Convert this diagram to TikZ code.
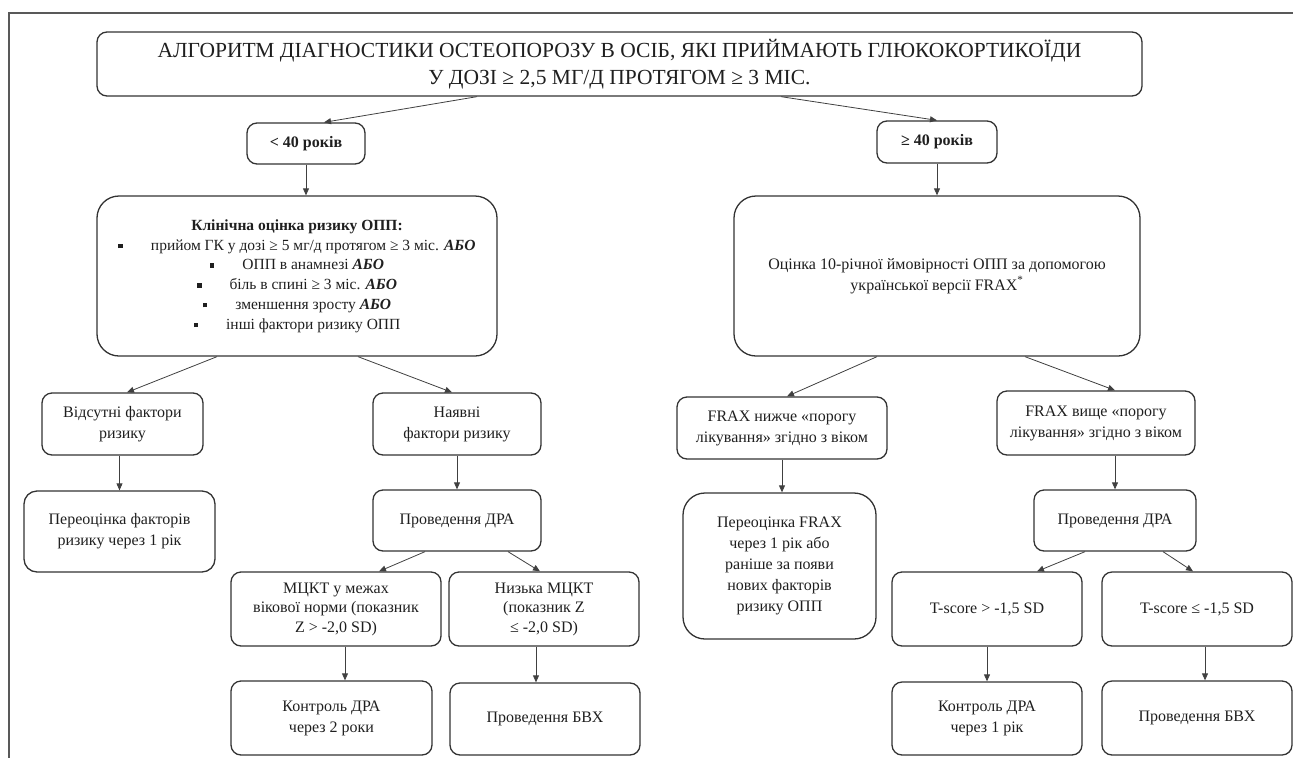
\documentclass[tikz,border=0pt]{standalone}
\usepackage{fontspec}
\setmainfont{Liberation Serif}
\usepackage{tikz}
\usetikzlibrary{arrows.meta, positioning, calc}

\newcommand{\sqb}{\rule[2pt]{4.5pt}{4.5pt}\hspace{28pt}}
\newcommand{\abo}{\textbf{\textit{АБО}}}

\begin{document}
\begin{tikzpicture}[x=1pt, y=-1pt,
    box/.style={draw=black!80, line width=1.3pt, rounded corners=10pt, align=center, inner sep=2pt,
                text=black!88, font=\fontsize{16}{21}\selectfont},
    bigbox/.style={box, rounded corners=22pt},
    arr/.style={-{Triangle[length=7pt, width=6pt]}, line width=0.8pt, draw=black!75}]
    \useasboundingbox (0,0) rectangle (1293,758);

    % Outer frame
    \draw[line width=2pt, black!65] (1293,13) -- (9,13) -- (9,758);

    % Title
    \node[box, minimum width=1045pt, minimum height=64pt, font=\fontsize{21.5}{27}\selectfont] (title) at (619.5,64)
        {АЛГОРИТМ ДІАГНОСТИКИ ОСТЕОПОРОЗУ В ОСІБ, ЯКІ ПРИЙМАЮТЬ ГЛЮКОКОРТИКОЇДИ\\ У ДОЗІ ≥ 2,5 МГ/Д ПРОТЯГОМ ≥ 3 МІС.};

    % Age groups
    \node[box, minimum width=118pt, minimum height=41pt, font=\bfseries\fontsize{16}{18}\selectfont] (young) at (306,143.5) {< 40 років};
    \node[box, minimum width=120pt, minimum height=42pt, font=\bfseries\fontsize{16}{18}\selectfont] (old) at (937,142) {≥ 40 років};

    % Left branch: < 40
    \node[bigbox, minimum width=400pt, minimum height=160pt, font=\fontsize{15.5}{19.8}\selectfont] (clin) at (297,276)
        {\textbf{Клінічна оцінка ризику ОПП:}\\
         \sqb прийом ГК у дозі ≥ 5 мг/д протягом ≥ 3 міс. \abo\\
         \sqb ОПП в анамнезі \abo\\
         \sqb біль в спині ≥ 3 міс. \abo\\
         \sqb зменшення зросту \abo\\
         \sqb інші фактори ризику ОПП};
    \node[box, minimum width=161pt, minimum height=62pt] (norisk) at (122.5,424) {Відсутні фактори\\ризику};
    \node[box, rounded corners=13pt, minimum width=191pt, minimum height=81pt] (reassess) at (119.5,531.5) {Переоцінка факторів\\ризику через 1 рік};
    \node[box, minimum width=168pt, minimum height=62pt] (risk) at (457,424) {Наявні\\фактори ризику};
    \node[box, minimum width=168pt, minimum height=61pt] (dxaL) at (457,520.5) {Проведення ДРА};
    \node[box, minimum width=210pt, minimum height=74pt, font=\fontsize{16}{19.5}\selectfont] (bmdok) at (336,609) {МЦКТ у межах\\вікової норми (показник\\Z > -2,0 SD)};
    \node[box, minimum width=190pt, minimum height=74pt, font=\fontsize{16}{19.5}\selectfont] (bmdlow) at (544,609) {Низька МЦКТ\\(показник Z\\≤ -2,0 SD)};
    \node[box, minimum width=201pt, minimum height=74pt] (ctrl2) at (331.5,718) {Контроль ДРА\\через 2 роки};
    \node[box, minimum width=190pt, minimum height=72pt] (bvxL) at (545,719) {Проведення БВХ};

    % Right branch: >= 40
    \node[bigbox, minimum width=406pt, minimum height=160pt] (fraxest) at (937,276)
        {Оцінка 10-річної ймовірності ОПП за допомогою\\української версії FRAX\textsuperscript{*}};
    \node[box, minimum width=210pt, minimum height=62pt] (fraxlow) at (782,428) {FRAX нижче «порогу\\лікування» згідно з віком};
    \node[bigbox, minimum width=193pt, minimum height=146pt] (refrax) at (779.5,566)
        {Переоцінка FRAX\\через 1 рік або\\раніше за появи\\нових факторів\\ризику ОПП};
    \node[box, minimum width=198pt, minimum height=64pt] (fraxhigh) at (1096,423) {FRAX вище «порогу\\лікування» згідно з віком};
    \node[box, minimum width=162pt, minimum height=61pt] (dxaR) at (1115,520.5) {Проведення ДРА};
    \node[box, minimum width=190pt, minimum height=74pt] (tgood) at (987,609) {T-score > -1,5 SD};
    \node[box, minimum width=190pt, minimum height=74pt] (tlow) at (1197,609) {T-score ≤ -1,5 SD};
    \node[box, minimum width=190pt, minimum height=73pt] (ctrl1) at (987,718.5) {Контроль ДРА\\через 1 рік};
    \node[box, minimum width=190pt, minimum height=74pt] (bvxR) at (1197,718) {Проведення БВХ};

    % Connectors
    \draw[arr] ([xshift=-142.5pt]title.south) -- ([xshift=18pt]young.north);
    \draw[arr] ([xshift=161.5pt]title.south) -- (old.north);
    \draw[arr] (young.south) -- (clin.north -| young.south);
    \draw[arr] (old.south) -- (fraxest.north -| old.south);
    \draw[arr] ([xshift=-80pt]clin.south) -- ([xshift=4.5pt]norisk.north);
    \draw[arr] ([xshift=61pt]clin.south) -- ([xshift=-5pt]risk.north);
    \draw[arr] (norisk.south -| reassess.north) -- (reassess.north);
    \draw[arr] (risk.south) -- (dxaL.north);
    \draw[arr] ([xshift=-32pt]dxaL.south) -- ([xshift=43pt]bmdok.north);
    \draw[arr] ([xshift=51pt]dxaL.south) -- ([xshift=-4pt]bmdlow.north);
    \draw[arr] ([xshift=9pt]bmdok.south) -- ([xshift=13.5pt]ctrl2.north);
    \draw[arr] ([xshift=-8pt]bmdlow.south) -- ([xshift=-9pt]bvxL.north);
    \draw[arr] ([xshift=-60pt]fraxest.south) -- ([xshift=5pt]fraxlow.north);
    \draw[arr] ([xshift=88pt]fraxest.south) -- ([xshift=19pt]fraxhigh.north);
    \draw[arr] (fraxlow.south) -- (refrax.north -| fraxlow.south);
    \draw[arr] ([xshift=19pt]fraxhigh.south) -- (dxaR.north);
    \draw[arr] ([xshift=-30pt]dxaR.south) -- ([xshift=50pt]tgood.north);
    \draw[arr] ([xshift=48pt]dxaR.south) -- ([xshift=-4pt]tlow.north);
    \draw[arr] (tgood.south) -- (ctrl1.north);
    \draw[arr] ([xshift=8pt]tlow.south) -- ([xshift=8pt]bvxR.north);
\end{tikzpicture}
\end{document}
